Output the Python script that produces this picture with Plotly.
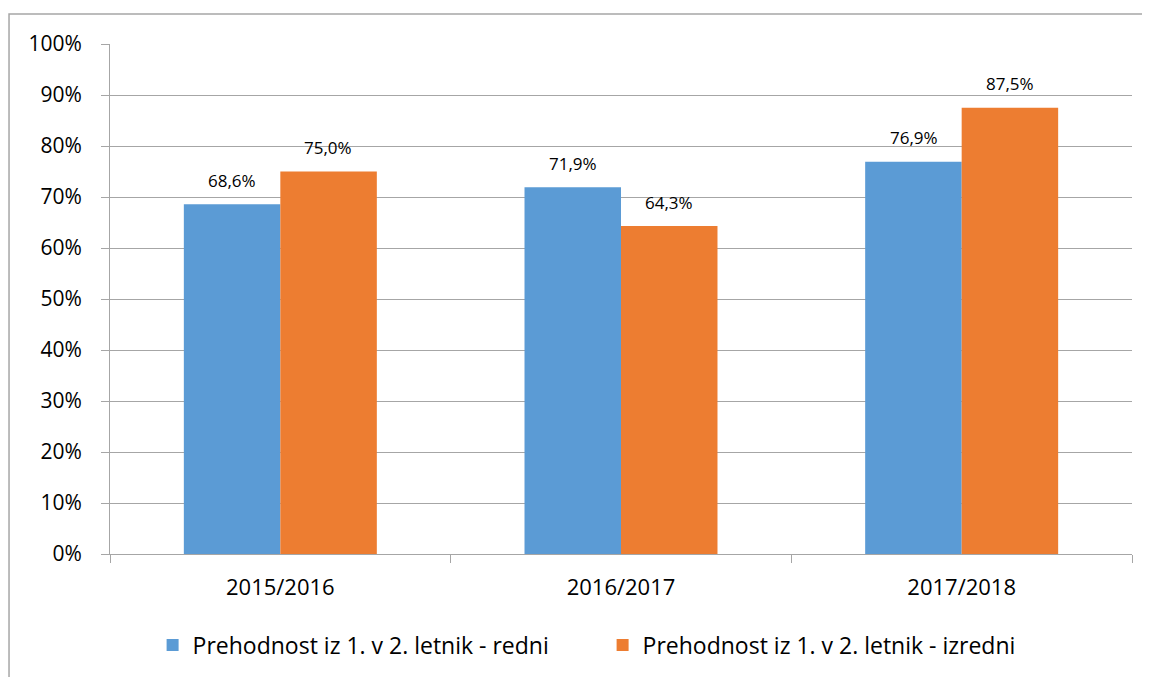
import plotly.graph_objects as go

categories = ["2015/2016", "2016/2017", "2017/2018"]
redni = [0.686, 0.719, 0.769]
izredni = [0.750, 0.643, 0.875]
series_names = ["Prehodnost iz 1. v 2. letnik - redni", "Prehodnost iz 1. v 2. letnik - izredni"]
colors = ["#5B9BD5", "#ED7D31"]

FONT = "Open Sans"

fig = go.Figure()
for name, vals, col in zip(series_names, [redni, izredni], colors):
    fig.add_trace(go.Bar(x=categories, y=vals, name=name, marker_color=col,
                         marker_line_width=0, hoverinfo="skip"))

annotations = []
for vals, shift in [(redni, -48), (izredni, 48)]:
    for c, v in zip(categories, vals):
        annotations.append(dict(x=c, y=v, xref="x", yref="y", text=f"{v*100:.1f}%".replace(".", ","),
                                showarrow=False, xshift=shift, yshift=24,
                                font=dict(family=FONT, size=17, color="#000")))

fig.update_layout(
    width=1142, height=669,
    margin=dict(l=102, r=18, t=36, b=122),
    paper_bgcolor="white", plot_bgcolor="white",
    barmode="group", bargap=0.4335, bargroupgap=0,
    font=dict(family=FONT, size=21, color="#000"),
    showlegend=True,
    legend=dict(orientation="h", x=0.482, xanchor="center", y=-0.176, yanchor="middle",
                font=dict(family=FONT, size=23, color="#000"), traceorder="normal",
                entrywidth=405, entrywidthmode="pixels", itemclick=False),
    annotations=annotations,
    shapes=[dict(type="rect", xref="paper", yref="paper", x0=-0.0988, x1=1.2, y0=-0.4, y1=1.0587,
                 line=dict(color="#a6a6a6", width=1.5), fillcolor="rgba(0,0,0,0)", layer="below")],
)
fig.update_yaxes(range=[0, 1], dtick=0.1, tickformat=".0%", showgrid=True, gridcolor="#a6a6a6",
                 gridwidth=1, showline=True, linecolor="#a6a6a6", linewidth=1,
                 ticks="outside", ticklen=8, tickcolor="#a6a6a6", zeroline=False,
                 ticklabelstandoff=15,
                 tickfont=dict(family=FONT, size=21, color="#000"), fixedrange=True)
fig.update_xaxes(showline=True, linecolor="#a6a6a6", linewidth=1, ticks="outside", ticklen=8,
                 tickcolor="#a6a6a6", tickson="boundaries", showgrid=False,
                 ticklabelstandoff=14,
                 tickfont=dict(family=FONT, size=22, color="#000"), fixedrange=True)

fig.write_html("out.html")
